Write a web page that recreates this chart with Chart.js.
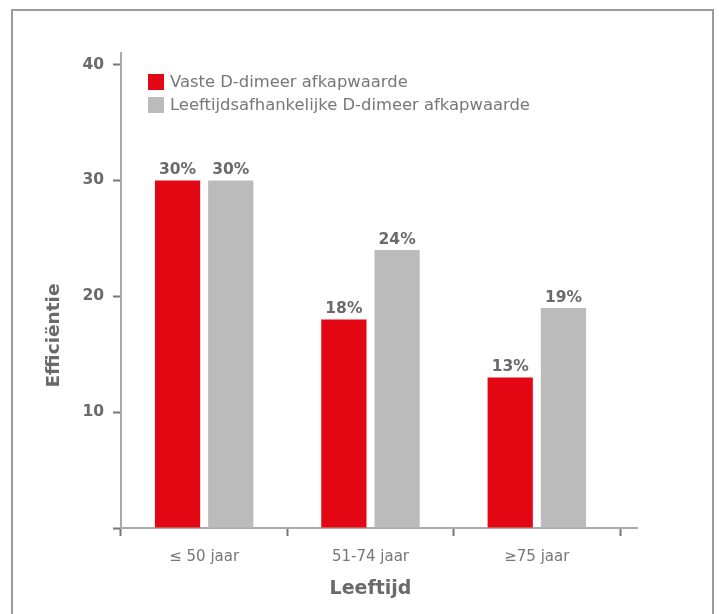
<!DOCTYPE html>
<html>
<head>
<meta charset="utf-8">
<script src="https://cdn.jsdelivr.net/npm/chart.js@4.4.1/dist/chart.umd.min.js"></script>
<style>
  html, body { margin: 0; padding: 0; background: #fff; overflow: hidden; }
  #wrap { position: absolute; left: 0; top: 0; width: 719px; height: 614px; }
  #frame { position: absolute; left: 11px; top: 9px; width: 703px; height: 700px; box-sizing: border-box; border: 2px solid #9b9b9b; pointer-events: none; }
</style>
</head>
<body>
<div id="wrap"><canvas id="chart"></canvas></div>
<div id="frame"></div>
<script>
const categories = ['\u2264 50 jaar', '51-74 jaar', '\u226575 jaar'];
const vasteAfkap = [30, 18, 13];
const leeftijdAfkap = [30, 24, 19];
const seriesNames = ['Vaste D-dimeer afkapwaarde', 'Leeftijdsafhankelijke D-dimeer afkapwaarde'];
const yTicks = [0, 10, 20, 30, 40];

const textGray = '#6a6a6a';

// percentage above every bar
const valueLabels = {
    id: 'valueLabels',
    afterDatasetsDraw(chart) {
        const ctx = chart.ctx;
        ctx.save();
        ctx.font = 'bold 15.5px "DejaVu Sans"';
        ctx.fillStyle = textGray;
        ctx.textAlign = 'center';
        ctx.textBaseline = 'alphabetic';
        chart.data.datasets.forEach((ds, i) => {
            chart.getDatasetMeta(i).data.forEach((bar, j) => {
                ctx.fillText(ds.data[j] + '%', bar.x, bar.y - 6);
            });
        });
        ctx.restore();
    }
};

// legend sits inside the plot, top left
const insideLegend = {
    id: 'insideLegend',
    afterDraw(chart) {
        const { ctx, chartArea } = chart;
        const x = chartArea.left + 27;
        const y0 = chartArea.top + 21;
        ctx.save();
        ctx.font = '16.4px "DejaVu Sans"';
        ctx.textBaseline = 'middle';
        chart.data.datasets.forEach((ds, i) => {
            const y = y0 + i * 23;
            ctx.fillStyle = ds.backgroundColor;
            ctx.fillRect(x, y, 16, 16);
            ctx.fillStyle = '#777';
            ctx.fillText(ds.label, x + 22, y + 9);
        });
        ctx.restore();
    }
};

// base line runs a bit past the plot, plus both axis titles
const axisExtras = {
    id: 'axisExtras',
    beforeDatasetsDraw(chart) {
        const { ctx, chartArea, scales } = chart;
        const y0 = scales.y.getPixelForValue(0);
        ctx.save();
        ctx.strokeStyle = '#aaaaaa';
        ctx.lineWidth = 2;
        ctx.beginPath();
        ctx.moveTo(chartArea.right + 18, y0);
        ctx.lineTo(chartArea.left, y0);
        ctx.stroke();
        ctx.restore();
    },
    afterDraw(chart) {
        const { ctx, chartArea } = chart;
        ctx.save();
        ctx.fillStyle = textGray;
        ctx.textAlign = 'center';
        ctx.textBaseline = 'middle';

        ctx.font = 'bold 19px "DejaVu Sans"';
        ctx.fillText('Leeftijd', (chartArea.left + chartArea.right) / 2, 589);

        ctx.font = 'bold 18.5px "DejaVu Sans"';
        ctx.translate(chartArea.left - 67, (chartArea.top + chart.height) / 2 + 2);
        ctx.rotate(-Math.PI / 2);
        ctx.fillText('Effici\u00ebntie', 0, 0);
        ctx.restore();
    }
};

const chart = new Chart(document.getElementById('chart'), {
    type: 'bar',
    data: {
        labels: categories,
        datasets: [{
            label: seriesNames[0],
            data: vasteAfkap,
            backgroundColor: '#e30613',
            categoryPercentage: 0.64,
            barPercentage: 0.85
        }, {
            label: seriesNames[1],
            data: leeftijdAfkap,
            backgroundColor: '#bbbbbb',
            categoryPercentage: 0.64,
            barPercentage: 0.85
        }]
    },
    options: {
        responsive: true,
        maintainAspectRatio: false,
        animation: false,
        layout: { padding: { top: 53, right: 99, left: 1, bottom: 0 } },
        plugins: {
            legend: { display: false },
            tooltip: { enabled: false }
        },
        scales: {
            x: {
                grid: { offset: true, drawOnChartArea: false, tickLength: 8, tickColor: '#777', tickWidth: 2 },
                border: { display: false },
                ticks: { color: '#777', font: { family: 'DejaVu Sans', size: 15 }, padding: 12 },
                afterFit(scale) { scale.height = 86; }
            },
            y: {
                min: 0,
                max: 41,
                afterBuildTicks(scale) { scale.ticks = yTicks.map(v => ({ value: v })); },
                grid: { drawOnChartArea: false, tickLength: 8, tickColor: '#777', tickWidth: 2 },
                border: { color: '#aaaaaa', width: 2 },
                ticks: {
                    color: textGray,
                    font: { family: 'DejaVu Sans', size: 15.5, weight: 'bold' },
                    padding: 9,
                    callback: v => (v === 0 ? '' : v)
                },
                afterFit(scale) { scale.width = 120; }
            }
        }
    },
    plugins: [axisExtras, valueLabels, insideLegend]
});
</script>
</body>
</html>
